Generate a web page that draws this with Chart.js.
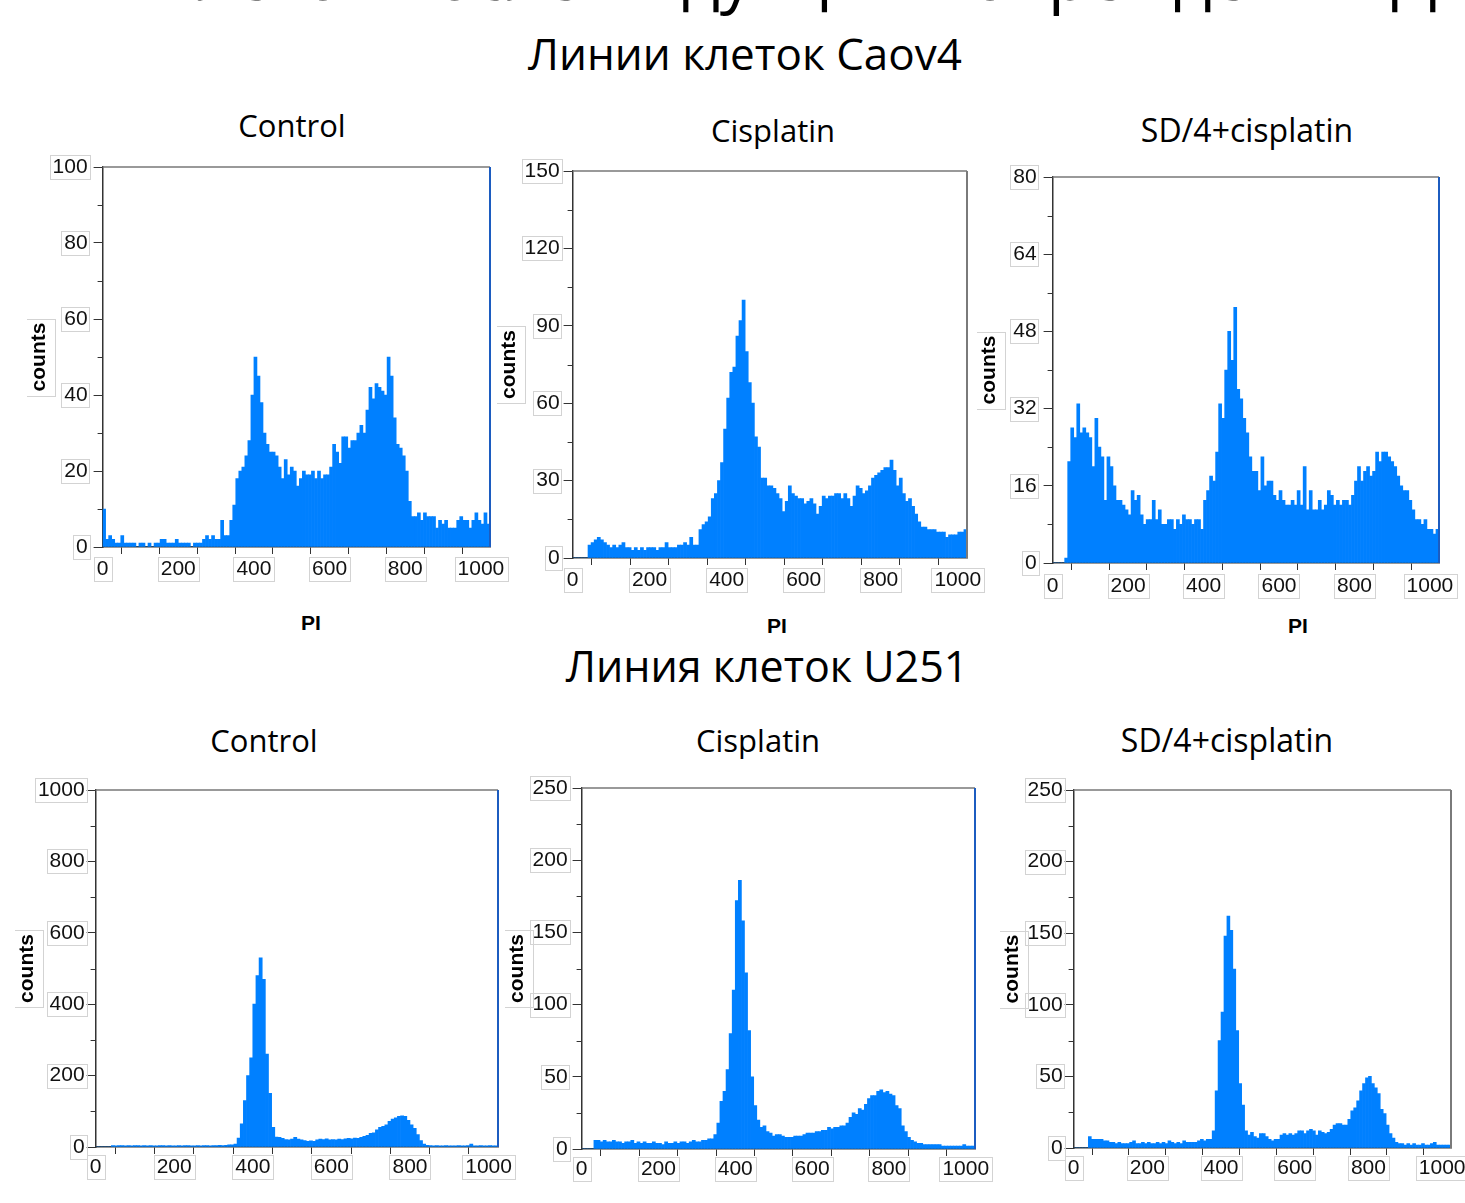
<!DOCTYPE html>
<html>
<head>
<meta charset="utf-8">
<script src="https://cdn.jsdelivr.net/npm/chart.js@4.4.0/dist/chart.umd.min.js"></script>
<style>
html,body{margin:0;padding:0;background:#fff;}
body{width:1465px;height:1203px;overflow:hidden;position:relative;}
.t{position:absolute;transform:translate(-50%,-50%);font-family:"Open Sans",sans-serif;line-height:1;white-space:nowrap;color:#000;}
.pi{position:absolute;transform:translate(-50%,-50%);font-family:"Liberation Sans",Arial,sans-serif;font-weight:bold;font-size:21px;line-height:1;color:#000;}
canvas{position:absolute;}
</style>
</head>
<body>
<div id="root"></div>
<script>
// ---------------- DATA (PI histogram, bins of 8 channels, 0..1024) ----------------
const BIN = 8;
const caovControl = [
10,2,3,2,1,1,3,1,1,1,
1,0,1,1,0,1,0,1,1,2,
2,1,1,1,2,1,1,1,1,0,
1,1,1,2,3,2,3,2,2,7,
3,3,7,11,18,20,21,24,28,40,
50,45,38,30,27,25,25,24,21,18,
23,19,21,20,16,18,20,19,19,20,
18,20,18,19,19,21,27,25,22,29,
29,26,28,28,30,32,30,36,42,39,
43,42,41,40,50,45,34,27,26,24,
20,12,8,8,9,7,9,8,8,8,
5,7,6,7,5,5,5,7,8,7,
7,5,7,9,7,6,9,6
];
const caovCisplatin = [
0,0,0,0,0,5,6,7,8,7,
6,5,4,5,4,5,6,4,4,3,
4,3,4,3,4,4,4,3,4,4,
6,4,4,4,5,5,6,5,8,5,
5,11,13,14,16,23,25,30,37,50,
62,72,74,86,92,100,80,68,60,47,
43,31,31,28,28,27,25,23,18,22,
28,25,24,23,23,21,22,23,21,17,
20,24,23,24,24,25,25,23,25,23,
20,24,28,27,25,26,28,31,32,33,
34,35,35,38,34,28,31,25,22,23,
20,17,14,12,12,11,11,11,10,10,
10,8,9,9,9,10,10,11
];
const caovSD4 = [
0,0,0,0,1,21,28,26,33,27,
28,27,26,20,30,24,22,13,22,20,
16,13,13,12,11,10,15,13,14,10,
8,9,9,13,9,11,8,8,9,9,
7,9,8,10,9,9,8,9,9,7,
13,15,18,17,23,33,30,40,48,42,
53,36,34,30,27,22,19,19,15,22,
16,17,17,14,13,15,13,12,12,13,
12,15,12,20,11,15,11,11,13,11,
12,15,14,12,13,12,13,13,12,14,
17,20,17,19,20,18,19,23,21,23,
23,22,21,20,18,16,15,15,13,11,
9,9,8,9,7,7,6,7
];
const u251Control = [
0,0,0,0,0,4,3,4,4,3,
4,3,4,4,3,4,3,4,3,3,
4,4,3,4,3,3,4,3,4,4,
3,3,4,3,4,4,3,4,4,5,
4,5,6,6,8,25,65,130,200,250,
400,480,530,470,260,150,55,28,27,24,
21,20,22,27,22,20,18,16,17,16,
20,22,21,23,20,21,20,22,21,23,
24,23,25,24,27,30,33,38,40,48,
55,58,62,72,78,82,86,87,86,75,
62,52,35,18,8,5,4,3,4,3,
3,4,3,3,3,4,3,3,4,8,
3,3,4,3,3,4,3,3
];
const u251Cisplatin = [
0,0,0,0,6,6,5,6,5,5,
6,5,5,4,5,5,6,4,5,4,
5,4,4,5,4,4,3,5,4,4,
5,4,5,5,4,5,6,5,5,6,
6,7,7,10,18,33,40,55,80,110,
172,186,158,122,82,50,30,20,15,16,
12,11,9,10,10,9,8,8,8,9,
9,9,10,11,11,11,12,12,13,13,
15,14,15,15,16,16,18,22,25,24,
28,27,31,35,37,37,40,41,39,40,
38,37,30,28,16,12,8,6,5,4,
4,3,3,3,3,3,3,2,2,2,
2,2,2,2,3,2,2,2
];
const u251SD4 = [
0,0,0,0,0,8,6,6,6,6,
5,5,4,4,3,4,3,3,3,4,
5,3,3,4,3,4,3,3,4,3,
4,3,5,4,3,4,3,5,4,4,
4,4,5,6,5,6,6,12,40,75,
95,148,162,152,125,82,45,30,12,9,
11,8,7,10,10,8,6,5,6,6,
9,10,9,10,9,10,12,12,10,12,
13,12,9,12,11,10,11,13,16,17,
17,16,16,20,26,28,33,40,45,49,
50,45,42,38,27,24,16,10,7,4,
3,3,2,3,2,3,2,2,3,2,
2,3,4,2,2,2,2,2
];
const sectionTitles = ['Линии клеток Caov4', 'Линия клеток U251'];
const panelTitles = ['Control', 'Cisplatin', 'SD/4+cisplatin'];
const yMaxes = [100, 150, 80, 1000, 250, 250];
const yMajorSteps = [20, 30, 16, 200, 50, 50];
const xAxisTitle = 'PI';
const yAxisTitle = 'counts';
const X_MAX = 1024;

// ---------------- LAYOUT ----------------
const panels = [
  {data: caovControl,   L:103,  R:490,  T:167, B:547,  ytx:40,   ypad:6, xoff:22, right:'#1c5cc0'},
  {data: caovCisplatin, L:573,  R:967,  T:171, B:558,  ytx:510,  ypad:4, xoff:22, right:'#7a7a7a'},
  {data: caovSD4,       L:1053, R:1439, T:177, B:563,  ytx:990,  ypad:7, xoff:23, right:'#1c5cc0'},
  {data: u251Control,   L:96,   R:498,  T:790, B:1147, ytx:28,   ypad:2, xoff:20, right:'#1c5cc0'},
  {data: u251Cisplatin, L:582,  R:975,  T:788, B:1149, ytx:518,  ypad:5, xoff:20, right:'#1c5cc0'},
  {data: u251SD4,       L:1074, R:1451, T:790, B:1148, ytx:1013, ypad:2, xoff:20, right:'#7a7a7a'}
];
const textItems = [
  {txt: 'клеток после индукции повреждений ДНК', left:163, top:-59, size:66, raw:true},
  {txt: sectionTitles[0], x:745, y:53, size:44},
  {txt: sectionTitles[1], x:767, y:665, size:43},
  {txt: panelTitles[0], x:292, y:125, size:31},
  {txt: panelTitles[1], x:773, y:130, size:31},
  {txt: panelTitles[2], x:1247, y:130, size:32},
  {txt: panelTitles[0], x:264, y:740, size:31},
  {txt: panelTitles[1], x:758, y:740, size:31},
  {txt: panelTitles[2], x:1227, y:740, size:32}
];
const piPos = [[311,622],[777,625],[1298,625],[267,1211],[703,1211],[1228,1211]];

const root = document.getElementById('root');
textItems.forEach(o => {
  const d = document.createElement('div');
  d.textContent = o.txt;
  if (o.raw) {
    d.style.cssText = `position:absolute;left:${o.left}px;top:${o.top}px;font-family:"Open Sans",sans-serif;font-size:${o.size}px;line-height:1;white-space:nowrap;color:#000;`;
  } else {
    d.className = 't';
    d.style.left = o.x + 'px'; d.style.top = o.y + 'px'; d.style.fontSize = o.size + 'px';
  }
  root.appendChild(d);
});
piPos.forEach(p => {
  const d = document.createElement('div');
  d.className = 'pi'; d.textContent = xAxisTitle;
  d.style.left = p[0] + 'px'; d.style.top = p[1] + 'px';
  root.appendChild(d);
});

function hasFont(f) {
  const c = document.createElement('canvas').getContext('2d');
  c.font = '40px monospace';
  const w0 = c.measureText('1000 counts').width;
  c.font = `40px "${f}", monospace`;
  return Math.abs(c.measureText('1000 counts').width - w0) > 0.5;
}
const narrow = hasFont('Liberation Sans Narrow');
const TICK_FONT = narrow ? {family: '"Liberation Sans Narrow", "Liberation Sans", Arial, sans-serif', size: 24}
                         : {family: '"Liberation Sans", Arial, sans-serif', size: 21};
const TITLE_FONT = {family: '"Liberation Sans", Arial, sans-serif', size: 21, weight: 'bold'};
const X_TICK_LEN = 7, Y_TICK_LEN = 9;
const PAD_TOP = 20, PAD_RIGHT = 35, X_AXIS_H = 40;
const BOX = '#d3d3d3';

const decor = {
  id: 'decor',
  afterDraw(chart) {
    const p = chart.options.plugins.decor;
    const {ctx, chartArea: a} = chart;
    const x = chart.scales.x, y = chart.scales.y;
    ctx.save();
    // top frame
    ctx.strokeStyle = '#777'; ctx.lineWidth = 1.5;
    ctx.beginPath(); ctx.moveTo(a.left, a.top); ctx.lineTo(a.right, a.top); ctx.stroke();
    // right frame
    ctx.strokeStyle = p.right; ctx.lineWidth = 2;
    ctx.beginPath(); ctx.moveTo(a.right, a.top); ctx.lineTo(a.right, a.bottom); ctx.stroke();
    // minor y ticks
    ctx.strokeStyle = '#333'; ctx.lineWidth = 1;
    for (let v = p.step / 2; v < y.max; v += p.step) {
      const py = Math.round(y.getPixelForValue(v)) + 0.5;
      ctx.beginPath(); ctx.moveTo(a.left - 5, py); ctx.lineTo(a.left, py); ctx.stroke();
    }
    // label boxes
    ctx.strokeStyle = BOX; ctx.lineWidth = 1;
    ctx.font = `${TICK_FONT.size}px ${TICK_FONT.family}`;
    const bh = Math.round(TICK_FONT.size * 1.15);
    y.ticks.forEach(t => {
      const w = ctx.measureText(String(t.label)).width;
      const py = y.getPixelForValue(t.value);
      const rx = a.left - Y_TICK_LEN - p.ypad;
      ctx.strokeRect(Math.round(rx - w - 3) + 0.5, Math.round(py - bh / 2) + 0.5, Math.round(w + 5), bh);
    });
    x.ticks.forEach(t => {
      if (!t.label) return;
      const w = ctx.measureText(String(t.label)).width;
      const px = x.getPixelForValue(t.value);
      const cy = a.bottom + p.xoff;
      ctx.strokeRect(Math.round(px - w / 2 - 3) + 0.5, Math.round(cy - bh / 2) + 0.5, Math.round(w + 6), bh);
    });
    // box around y title
    ctx.font = `bold ${TITLE_FONT.size}px ${TITLE_FONT.family}`;
    const tw = ctx.measureText(yAxisTitle).width;
    const cx = TITLE_FONT.size * 0.6, cyy = (a.top + a.bottom) / 2;
    ctx.strokeRect(Math.round(cx - 14) + 0.5, Math.round(cyy - tw / 2 - 4) + 0.5, 29, Math.round(tw + 8));
    ctx.restore();
  }
};

panels.forEach((p, i) => {
  const cLeft = p.ytx - TITLE_FONT.size * 0.6;
  const cTop = p.T - PAD_TOP;
  const W = Math.round(p.R + PAD_RIGHT - cLeft);
  const H = Math.round(p.B + X_AXIS_H - cTop);
  const yAxisW = p.L - cLeft;
  const cv = document.createElement('canvas');
  cv.width = W; cv.height = H;
  cv.style.left = cLeft + 'px'; cv.style.top = cTop + 'px';
  cv.style.width = W + 'px'; cv.style.height = H + 'px';
  root.appendChild(cv);
  const step = yMajorSteps[i];
  const xPad = p.xoff - X_TICK_LEN - TICK_FONT.size * 0.6;
  new Chart(cv, {
    type: 'bar',
    data: {
      datasets: [{
        data: p.data.map((v, k) => ({x: k * BIN + BIN / 2, y: v})),
        backgroundColor: '#0080ff',
        borderWidth: 0,
        barPercentage: 1,
        categoryPercentage: 1
      }]
    },
    options: {
      responsive: false,
      animation: false,
      devicePixelRatio: 1,
      layout: {padding: {top: PAD_TOP, right: PAD_RIGHT, bottom: 0, left: 0}},
      plugins: {
        legend: {display: false},
        tooltip: {enabled: false},
        decor: {right: p.right, step: step, ypad: p.ypad, xoff: p.xoff}
      },
      scales: {
        x: {
          type: 'linear', min: 0, max: X_MAX, offset: false,
          afterFit: s => { s.height = X_AXIS_H; },
          border: {display: true, color: '#333', width: 1.5},
          grid: {drawOnChartArea: false, drawTicks: true, tickLength: X_TICK_LEN, color: '#333'},
          ticks: {
            stepSize: 100, includeBounds: false, autoSkip: false, maxRotation: 0,
            padding: xPad, color: '#111', font: TICK_FONT,
            callback: v => (v % 200 === 0 ? String(v) : '')
          }
        },
        y: {
          type: 'linear', min: 0, max: yMaxes[i],
          afterFit: s => { s.width = yAxisW; },
          border: {display: true, color: '#333', width: 1.5},
          grid: {drawOnChartArea: false, drawTicks: true, tickLength: Y_TICK_LEN, color: '#333'},
          ticks: {stepSize: step, padding: p.ypad, color: '#111', font: TICK_FONT, autoSkip: false,
                  callback: v => String(v)},
          title: {display: true, text: yAxisTitle, color: '#000', font: TITLE_FONT, padding: 0}
        }
      }
    },
    plugins: [decor]
  });
});
</script>
</body>
</html>
